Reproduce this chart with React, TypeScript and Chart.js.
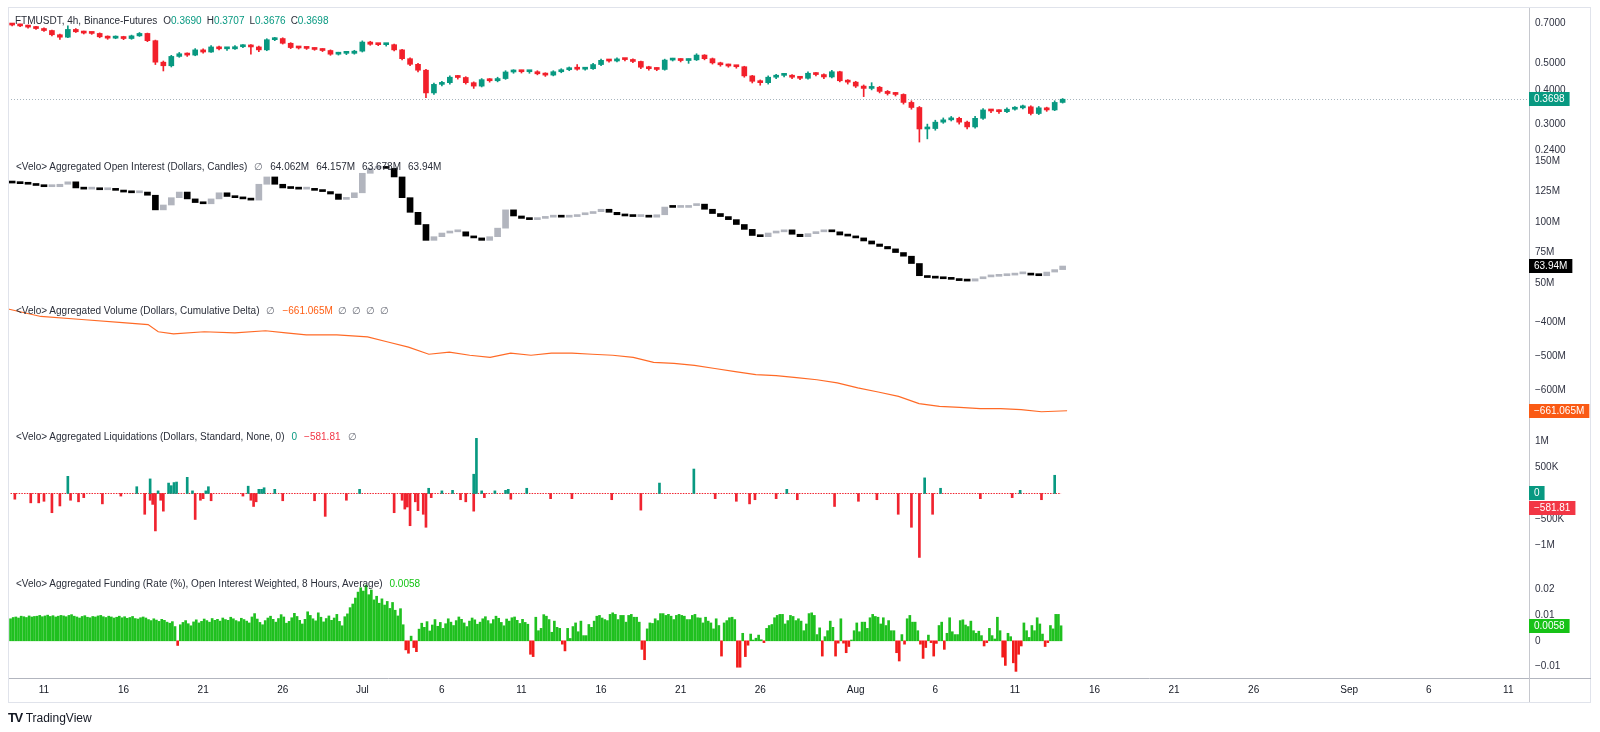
import React, { useEffect, useRef } from "react";
import { Chart, registerables } from "chart.js";

Chart.register(...registerables);

const FONT = "'Liberation Sans', Arial, Helvetica, sans-serif";
const UP = "#089981";
const DOWN = "#f2202b";
const OI_UP = "#b2b5be";
const OI_DOWN = "#000000";
const CVD_COLOR = "#ff6a26";
const LIQ_UP = "#089981";
const LIQ_DOWN = "#f0232f";
const FUND_UP = "#1fc01f";
const FUND_DOWN = "#f21b1b";

// ---- time axis: days since 11 Jun 00:00 ----
const xMinDay = -2.26;
const xMaxDay = 93.3;
const tickDays = [0, 5, 10, 15, 20, 25, 30, 35, 40, 45, 51, 56, 61, 66, 71, 76, 82, 87, 92];
const tickLabels = ["11", "16", "21", "26", "Jul", "6", "11", "16", "21", "26", "Aug", "6", "11", "16", "21", "26", "Sep", "6", "11"];

// ---- price candles (12h) ----
const candleStartDay = -2;
const candleStepDays = 0.5;
const priceFirstOpen = 0.695;
const priceClose = [
  0.69, 0.685, 0.678, 0.67, 0.659, 0.636, 0.623, 0.665, 0.652, 0.645,
  0.643, 0.625, 0.618, 0.626, 0.616, 0.63, 0.643, 0.605, 0.505, 0.49,
  0.53, 0.542, 0.536, 0.56, 0.55, 0.574, 0.565, 0.565, 0.575, 0.581,
  0.574, 0.56, 0.61, 0.616, 0.592, 0.571, 0.569, 0.567, 0.562, 0.557,
  0.54, 0.544, 0.544, 0.554, 0.598, 0.587, 0.585, 0.585, 0.56, 0.52,
  0.496, 0.472, 0.39, 0.419, 0.425, 0.445, 0.444, 0.425, 0.413, 0.436,
  0.432, 0.44, 0.465, 0.468, 0.466, 0.466, 0.458, 0.453, 0.466, 0.474,
  0.478, 0.476, 0.478, 0.495, 0.513, 0.51, 0.519, 0.516, 0.508, 0.484,
  0.478, 0.475, 0.514, 0.518, 0.512, 0.515, 0.536, 0.52, 0.502, 0.494,
  0.489, 0.486, 0.45, 0.43, 0.425, 0.445, 0.452, 0.452, 0.445, 0.441,
  0.46, 0.455, 0.446, 0.466, 0.432, 0.427, 0.413, 0.405, 0.409, 0.395,
  0.388, 0.385, 0.36, 0.345, 0.288, 0.289, 0.305, 0.311, 0.315, 0.305,
  0.293, 0.315, 0.338, 0.335, 0.333, 0.34, 0.344, 0.347, 0.328, 0.344,
  0.338, 0.36, 0.3698,
];
const priceHigh = [
  0.70, 0.695, 0.69, 0.682, 0.674, 0.662, 0.64, 0.685, 0.67, 0.656,
  0.65, 0.646, 0.63, 0.63, 0.628, 0.634, 0.648, 0.645, 0.608, 0.51,
  0.535, 0.548, 0.546, 0.566, 0.565, 0.58, 0.578, 0.572, 0.58, 0.586,
  0.585, 0.578, 0.615, 0.622, 0.62, 0.595, 0.576, 0.573, 0.57, 0.566,
  0.56, 0.549, 0.55, 0.558, 0.604, 0.602, 0.592, 0.59, 0.588, 0.562,
  0.524, 0.50, 0.475, 0.424, 0.43, 0.45, 0.452, 0.447, 0.428, 0.44,
  0.44, 0.445, 0.47, 0.474, 0.472, 0.471, 0.47, 0.462, 0.47, 0.478,
  0.485, 0.495, 0.482, 0.50, 0.518, 0.517, 0.524, 0.522, 0.519, 0.51,
  0.488, 0.482, 0.518, 0.522, 0.52, 0.519, 0.542, 0.538, 0.523, 0.505,
  0.497, 0.492, 0.488, 0.452, 0.435, 0.45, 0.456, 0.458, 0.455, 0.448,
  0.466, 0.463, 0.458, 0.472, 0.468, 0.436, 0.43, 0.417, 0.425, 0.412,
  0.398, 0.392, 0.387, 0.365, 0.348, 0.30, 0.31, 0.316, 0.32, 0.318,
  0.308, 0.32, 0.342, 0.34, 0.338, 0.344, 0.348, 0.352, 0.35, 0.348,
  0.346, 0.365, 0.372,
];
const priceLow = [
  0.685, 0.68, 0.672, 0.665, 0.654, 0.63, 0.612, 0.62, 0.648, 0.64,
  0.638, 0.62, 0.612, 0.615, 0.61, 0.612, 0.627, 0.60, 0.495, 0.469,
  0.485, 0.526, 0.53, 0.533, 0.545, 0.548, 0.56, 0.558, 0.562, 0.57,
  0.54, 0.552, 0.556, 0.605, 0.588, 0.566, 0.564, 0.562, 0.558, 0.552,
  0.535, 0.536, 0.538, 0.54, 0.55, 0.582, 0.58, 0.578, 0.555, 0.515,
  0.49, 0.465, 0.375, 0.385, 0.414, 0.42, 0.438, 0.42, 0.405, 0.41,
  0.427, 0.428, 0.437, 0.46, 0.461, 0.46, 0.454, 0.448, 0.45, 0.462,
  0.47, 0.472, 0.472, 0.475, 0.49, 0.505, 0.506, 0.51, 0.503, 0.478,
  0.472, 0.47, 0.472, 0.51, 0.506, 0.50, 0.512, 0.515, 0.497, 0.488,
  0.484, 0.48, 0.445, 0.424, 0.416, 0.42, 0.44, 0.446, 0.44, 0.436,
  0.438, 0.45, 0.44, 0.442, 0.428, 0.42, 0.408, 0.378, 0.40, 0.39,
  0.383, 0.38, 0.355, 0.34, 0.258, 0.265, 0.285, 0.302, 0.308, 0.30,
  0.288, 0.29, 0.312, 0.33, 0.328, 0.33, 0.337, 0.341, 0.324, 0.325,
  0.334, 0.336, 0.358,
];
const priceTicks = [0.24, 0.3, 0.4, 0.5, 0.7];
const priceAxisMin = 0.2314;
const priceAxisMax = 0.803;

// ---- open interest candles (12h, $M) ----
const oiFirstOpen = 132.5;
const oiClose = [
  132, 131.5, 131, 130, 129, 129, 131, 133, 128, 127,
  127, 126.5, 127.5, 126, 124.6, 124, 124.6, 122, 110, 114,
  120, 124.6, 119, 116, 115, 119, 124, 121, 120, 119,
  118, 131, 137, 131, 128, 127.5, 127, 127, 126, 125,
  123, 118.6, 120, 124, 140, 144, 145.5, 144, 137, 120,
  108, 98, 85, 88, 91, 92, 92, 88.5, 87, 85,
  88, 95, 110, 105, 103, 102, 103, 104, 104.5, 104,
  104.5, 106, 107, 108.5, 110.5, 108, 106, 105, 104.5, 104.5,
  104, 106, 112.3, 112, 112, 113.5, 114.7, 110.5, 107, 104.5,
  102, 98, 94, 89, 88, 91, 92, 93.6, 90, 88,
  90.5, 92, 93.6, 92, 89.4, 88.5, 87, 84.5, 82, 80,
  78, 75, 72, 66, 56, 54.5, 54, 53.5, 53, 52,
  51.6, 53.5, 55, 55.5, 56, 56.5, 57.5, 57.5, 56.5, 56,
  59, 61, 63.94,
];
const oiTicks = [50, 75, 100, 125, 150];
const oiAxisMin = 41;
const oiAxisMax = 155;

// ---- cumulative volume delta ($M) ----
const cvdDays = [
  -2.25, -0.2, 2.37, 4.94, 6.54, 7.18, 8.14, 10.07, 11.99, 13.92,
  15.2, 16.48, 18.4, 20.33, 21.61, 22.9, 24.18, 25.47, 26.75, 28.03,
  29.32, 30.6, 31.88, 33.17, 34.45, 35.73, 37.02, 38.3, 39.58, 40.87,
  42.15, 43.43, 44.72, 46, 47.28, 48.56, 49.84, 51.13, 52.41, 53.69,
  54.98, 56.26, 57.54, 58.82, 60.1, 61.39, 62.67, 64.28,
];
const cvdValues = [
  -362, -384, -393, -402, -408, -429, -435, -429, -432, -426,
  -432, -438, -438, -444, -459, -474, -495, -489, -498, -504,
  -492, -498, -492, -492, -495, -498, -504, -519, -522, -528,
  -537, -546, -555, -558, -564, -570, -579, -594, -606, -619,
  -640, -648, -651, -655, -655, -658, -664, -661.065,
];
const cvdTicks = [-600, -500, -400];
const cvdAxisMin = -700;
const cvdAxisMax = -318;

// ---- liquidations ($M) ----
const liqShortDays = [
  1.5, 5.83, 6.67, 7.17, 7.83, 8.0, 8.17, 8.33, 9.0, 9.33,
  10.17, 10.33, 12.83, 13.5, 13.67, 13.83, 14.5, 19.83, 24.17, 25.0,
  25.67, 27.0, 27.17, 27.5, 28.33, 29.0, 29.17, 30.33, 38.67, 40.83,
  46.67, 55.33, 56.33, 61.33, 63.5,
];
const liqShortValues = [
  0.33, 0.13, 0.28, 0.05, 0.2, 0.15, 0.21, 0.22, 0.31, 0.05,
  0.05, 0.13, 0.14, 0.08, 0.08, 0.11, 0.08, 0.08, 0.1, 0.05,
  0.06, 0.37, 1.06, 0.05, 0.05, 0.06, 0.08, 0.1, 0.2, 0.47,
  0.08, 0.3, 0.1, 0.06, 0.35,
];
const liqLongDays = [
  -1.83, -0.83, -0.33, 0, 0.5, 1.0, 1.67, 2.17, 2.5, 3.67,
  4.83, 6.33, 6.67, 6.83, 7.0, 7.33, 7.5, 9.5, 9.83, 10.0,
  10.5, 12.5, 13.0, 13.17, 13.33, 15.0, 17.0, 17.67, 19.0, 22.0,
  22.5, 22.67, 22.83, 23.0, 23.33, 23.5, 23.83, 24.0, 24.33, 26.17,
  26.5, 27.0, 27.67, 29.33, 31.83, 33.17, 35.67, 37.5, 42.17, 43.5,
  44.33, 44.67, 46.0, 47.33, 49.67, 51.17, 52.33, 53.67, 54.5, 55.0,
  55.83, 58.83, 60.83, 62.67,
];
const liqLongValues = [
  -0.11, -0.18, -0.18, -0.15, -0.37, -0.24, -0.13, -0.16, -0.08, -0.2,
  -0.05, -0.4, -0.13, -0.21, -0.72, -0.13, -0.34, -0.5, -0.13, -0.1,
  -0.14, -0.05, -0.13, -0.25, -0.16, -0.14, -0.14, -0.44, -0.13, -0.37,
  -0.13, -0.3, -0.26, -0.62, -0.16, -0.33, -0.4, -0.65, -0.08, -0.12,
  -0.16, -0.34, -0.08, -0.11, -0.1, -0.1, -0.12, -0.32, -0.1, -0.15,
  -0.2, -0.12, -0.1, -0.12, -0.25, -0.15, -0.12, -0.4, -0.65, -1.23,
  -0.4, -0.1, -0.08, -0.12,
];
const liqTicks = [-1, -0.5, 0.5, 1];
const liqAxisMin = -1.51;
const liqAxisMax = 1.336;

// ---- funding rate (%, 4h bars) ----
const fundingStartDay = -2.1;
const fundingStepDays = 1 / 6;
const fundingRate = [
  .0085, .009, .0092, .0088, .0095, .0093, .009, .0096, .0092, .0094,
  .0095, .0098, .0093, .0096, .0099, .0094, .0097, .0092, .0095, .0098,
  .0096, .0093, .0098, .0101, .0095, .0092, .0088, .0094, .0097, .0091,
  .0089, .0094, .0092, .0096, .0098, .0093, .009, .0095, .0092, .0088,
  .0091, .0095, .0089, .0093, .0087, .009, .0094, .0086, .0084, .0089,
  .0092, .0088, .0082, .0078, .0085, .008, .0075, .0083, .0079, .0072,
  .0068, .0074, .0055, -.0018, .0062, .0071, .0078, .0066, .0058, .0073,
  .0081, .0069, .0075, .0084, .0078, .0072, .0086, .0079, .0083, .0076,
  .0088, .0082, .0079, .0091, .0085, .0078, .0074, .0087, .0082, .0076,
  .0069, .0092, .0105, .0084, .0071, .0062, .0078, .0088, .0095, .0083,
  .0072, .0086, .0101, .0092, .0068, .0075, .0089, .0106, .0094, .0079,
  .0065, .0083, .0112, .0098, .0085, .0077, .0108, .0091, .0073, .0086,
  .0096, .0079, .0088, .0102, .0075, .0058, .0093, .0104, .0128, .0142,
  .0165, .0188, .0205, .0192, .0215, .0178, .0196, .0158, .0172, .0145,
  .0162, .0138, .0152, .0125, .0148, .0118, .0096, .0124, .0062, -.0035,
  -.0048, .0018, -.0026, -.0042, .0045, .0068, .0052, .0074, .0038, .0061,
  .0082, .0056, .0071, .0048, .0066, .0085, .0072, .0059, .0078, .0092,
  .0083, .0069, .0055, .0076, .0088, .0081, .0064, .0072, .0085, .0093,
  .0078, .0066, .0082, .0095, .0087, .0071, .0058, .0084, .0076, .0089,
  .0092, .0079, .0067, .0083, .0071, .0064,
  -.0052, -.0061, .0091, .0039, .0048, .0101, .0095, .0082, .0033, .0076,
  .0052, .0048, -.0013, -.0039, .0048, .0009, .0055, .0069, .0035, .0076,
  .002, .002, .0063, .0052, .0076, .0095, .0098, .0088, .0082, .0078,
  .0102, .0108, .0102, .0082, .0098, .0098, .0072, .0098, .0102, .0091,
  .0091, .0072, -.0033, -.0073, .0046, .0069, .0067, .0085, .0078, .0105,
  .0105, .0098, .0102, .0095, .0082, .0098, .0102, .0098, .0095, .0082,
  .0082, .0098, .0102, .0089, .0088, .0069, .0091, .0076, .0069, .0046,
  .0085, .0059, -.0059, .0069, .0078, .0089, .0091, .0082, -.0102, -.0102,
  .0029, -.0061, -.0017, .0026, .0003, .001, .0022, .0004, -.0007, .0048,
  .0059, .0063, .0089, .0098, .0102, .0102, .0065, .0078, .0098, .0094,
  .0078, .0085, .0076, .0039, .0065, .0105, .0108, .0098, .0024, .005,
  -.0059, .0016, .0039, .0076, .0052, -.0059, -.0009, .0085, -.0009, -.0046,
  -.0022, .0003, .0039, .0069, .0035, .0072, .0072, .0048, .0089, .0102,
  .0094, .0091, .0065, .0089, .0059, .0078, .0039, .0039, -.0046, -.0078,
  .0024, -.0013, .0085, .0098, .0072, .0072, .0039, -.0013, -.0068, -.0026,
  .0022, -.0007, -.0059, -.001, .0059, .0072, -.0033, .0029, .0089, .0035,
  .0024, .0024, .0078, .0081, .0061, .0055, .0076, .0039, .0029, .0037,
  .002, -.002, -.0007, .0048, .002, .0007, .0091, .0039, -.0063, -.0095,
  .0029, .0016, -.0085, -.0118, -.0052, -.002, .0069, .0039, .0013, .0059,
  .0039, .0089, .0065, .0026, -.0022, -.0007, .0059, .0046, .0102, .0102,
  .0058,
];
const fundingTicks = [-0.01, 0, 0.01, 0.02];
const fundingAxisMin = -0.01436;
const fundingAxisMax = 0.02656;

// ---- legends ----
const priceLegend = { o: "0.3690", h: "0.3707", l: "0.3676", c: "0.3698" };
const oiLegend = ["64.062M", "64.157M", "63.678M", "63.94M"];
const cvdLegend = "−661.065M";
const liqLegend = { up: "0", down: "−581.81" };
const fundingLegend = "0.0058";

const minus = (s: string) => s.replace("-", "−");

function buildChart(canvas: HTMLCanvasElement) {
  const candleDays = priceClose.map((_, i) => candleStartDay + i * candleStepDays);
  const priceOpen = priceClose.map((_, i) => (i === 0 ? priceFirstOpen : priceClose[i - 1]));
  const priceColors = priceClose.map((c, i) => (c >= priceOpen[i] ? UP : DOWN));
  const oiOpen = oiClose.map((_, i) => (i === 0 ? oiFirstOpen : oiClose[i - 1]));
  const oiColors = oiClose.map((c, i) => (c >= oiOpen[i] ? OI_UP : OI_DOWN));
  const fundingDays = fundingRate.map((_, i) => fundingStartDay + i * fundingStepDays);

  const lastPrice = priceClose[priceClose.length - 1];
  const lastOi = oiClose[oiClose.length - 1];
  const lastCvd = cvdValues[cvdValues.length - 1];
  const lastFunding = fundingRate[fundingRate.length - 1];

  const tickFont = { size: 10, family: FONT };
  const yBase = (weight: number) => ({
    position: "right" as const,
    stack: "panes",
    stackWeight: weight,
    offset: false,
    grid: { display: false, drawTicks: false },
    border: { display: true, color: "#c6c8ce", width: 1 },
    afterFit: (s: any) => {
      s.width = 62;
      s.paddingTop = 0;
      s.paddingBottom = 0;
    },
  });
  const yTicks = (cb: (v: number) => string) => ({
    font: tickFont,
    color: "#2f3241",
    padding: 6,
    autoSkip: false,
    callback: (v: any) => cb(Number(v)),
  });

  const tag = (ctx: CanvasRenderingContext2D, x: number, y: number, text: string, bg: string) => {
    ctx.font = `10px ${FONT}`;
    const w = ctx.measureText(text).width + 10;
    ctx.fillStyle = bg;
    ctx.fillRect(x, Math.round(y - 7), w, 14);
    ctx.fillStyle = "#ffffff";
    ctx.textBaseline = "middle";
    ctx.textAlign = "left";
    ctx.fillText(text, x + 5, Math.round(y - 7) + 7.5);
  };

  const paneDecor = {
    id: "paneDecor",
    beforeDatasetsDraw(chart: any) {
      const ctx = chart.ctx as CanvasRenderingContext2D;
      const { left, right } = chart.chartArea;
      const x = chart.scales.x;
      ctx.save();
      const py = Math.round(chart.scales.yPrice.getPixelForValue(lastPrice)) + 0.5;
      ctx.strokeStyle = "#a7b4bd";
      ctx.lineWidth = 1;
      ctx.setLineDash([1, 2]);
      ctx.beginPath();
      ctx.moveTo(left, py);
      ctx.lineTo(right, py);
      ctx.stroke();
      const zy = Math.round(chart.scales.yLiq.getPixelForValue(0)) + 0.5;
      ctx.strokeStyle = LIQ_DOWN;
      ctx.setLineDash([1.5, 1.2]);
      ctx.beginPath();
      ctx.moveTo(x.getPixelForValue(fundingDays[0]), zy);
      ctx.lineTo(x.getPixelForValue(fundingDays[fundingDays.length - 1]), zy);
      ctx.stroke();
      ctx.restore();
    },
    afterDraw(chart: any) {
      const ctx = chart.ctx as CanvasRenderingContext2D;
      const area = chart.chartArea;
      const W = chart.width;
      ctx.save();
      ctx.strokeStyle = "#e0e3eb";
      ctx.lineWidth = 1;
      ctx.strokeRect(area.left + 0.5, area.top + 0.5, W - 9 - area.left - 1, 695);
      ctx.strokeStyle = "#b2b5be";
      ctx.beginPath();
      ctx.moveTo(area.right, area.bottom + 0.5);
      ctx.lineTo(W - 9, area.bottom + 0.5);
      ctx.stroke();
      ctx.strokeStyle = "#c6c8ce";
      ctx.beginPath();
      ctx.moveTo(area.right + 0.5, area.bottom);
      ctx.lineTo(area.right + 0.5, area.top + 695);
      ctx.stroke();
      const ax = area.right;
      tag(ctx, ax, chart.scales.yPrice.getPixelForValue(lastPrice), lastPrice.toFixed(4), UP);
      tag(ctx, ax, chart.scales.yOI.getPixelForValue(lastOi), lastOi.toFixed(2) + "M", "#000000");
      tag(ctx, ax, chart.scales.yCVD.getPixelForValue(lastCvd), minus(lastCvd.toFixed(3)) + "M", "#fa5a14");
      const z = chart.scales.yLiq.getPixelForValue(0);
      tag(ctx, ax, z, liqLegend.up, LIQ_UP);
      tag(ctx, ax, z + 15, liqLegend.down, "#f23645");
      tag(ctx, ax, chart.scales.yFund.getPixelForValue(lastFunding), lastFunding.toFixed(4), "#17c217");
      ctx.restore();
    },
  };

  const datasets: any[] = [
    {
      type: "bar",
      yAxisID: "yPrice",
      data: candleDays.map((d, i) => ({ x: d, y: [priceLow[i], priceHigh[i]] })),
      backgroundColor: priceColors,
      barThickness: 1,
      grouped: false,
      minBarLength: 1,
    },
    {
      type: "bar",
      yAxisID: "yPrice",
      data: candleDays.map((d, i) => ({
        x: d,
        y: [Math.min(priceOpen[i], priceClose[i]), Math.max(priceOpen[i], priceClose[i])],
      })),
      backgroundColor: priceColors,
      barThickness: 5,
      grouped: false,
      minBarLength: 2,
    },
    {
      type: "bar",
      yAxisID: "yOI",
      data: candleDays.map((d, i) => ({
        x: d,
        y: [Math.min(oiOpen[i], oiClose[i]), Math.max(oiOpen[i], oiClose[i])],
      })),
      backgroundColor: oiColors,
      barThickness: 6,
      grouped: false,
      minBarLength: 2,
    },
    {
      type: "line",
      yAxisID: "yCVD",
      data: cvdDays.map((d, i) => ({ x: d, y: cvdValues[i] })),
      borderColor: CVD_COLOR,
      borderWidth: 1.2,
      pointRadius: 0,
      tension: 0,
    },
    {
      type: "bar",
      yAxisID: "yLiq",
      data: liqShortDays.map((d, i) => ({ x: d, y: liqShortValues[i] })),
      backgroundColor: LIQ_UP,
      barThickness: 2,
      grouped: false,
    },
    {
      type: "bar",
      yAxisID: "yLiq",
      data: liqLongDays.map((d, i) => ({ x: d, y: liqLongValues[i] })),
      backgroundColor: LIQ_DOWN,
      barThickness: 2,
      grouped: false,
    },
    {
      type: "bar",
      yAxisID: "yFund",
      data: fundingDays.map((d, i) => ({ x: d, y: fundingRate[i] })),
      backgroundColor: fundingRate.map((v) => (v >= 0 ? FUND_UP : FUND_DOWN)),
      barThickness: 2,
      grouped: false,
    },
  ];

  return new Chart(canvas, {
    type: "bar",
    data: { datasets },
    plugins: [paneDecor],
    options: {
      animation: false,
      responsive: false,
      events: [],
      layout: { padding: { left: 8, top: 7, right: 9, bottom: 30 } },
      plugins: { legend: { display: false }, tooltip: { enabled: false } },
      scales: {
        x: {
          type: "linear",
          position: "bottom",
          min: xMinDay,
          max: xMaxDay,
          offset: false,
          grid: { display: false, drawTicks: false },
          border: { display: true, color: "#b2b5be", width: 1 },
          afterBuildTicks: (s: any) => {
            s.ticks = tickDays.map((v) => ({ value: v }));
          },
          afterFit: (s: any) => {
            s.height = 24;
            s.paddingLeft = 0;
            s.paddingRight = 0;
          },
          ticks: {
            autoSkip: false,
            maxRotation: 0,
            padding: 6,
            font: tickFont,
            color: "#131722",
            callback: (v: any) => {
              const i = tickDays.indexOf(Number(v));
              return i >= 0 ? tickLabels[i] : "";
            },
          },
        },
        yPrice: {
          ...yBase(148),
          type: "logarithmic",
          min: priceAxisMin,
          max: priceAxisMax,
          afterBuildTicks: (s: any) => {
            s.ticks = priceTicks.map((v) => ({ value: v }));
          },
          ticks: yTicks((v) => v.toFixed(4)),
        },
        yOI: {
          ...yBase(139),
          type: "linear",
          min: oiAxisMin,
          max: oiAxisMax,
          afterBuildTicks: (s: any) => {
            s.ticks = oiTicks.map((v) => ({ value: v }));
          },
          ticks: yTicks((v) => `${v}M`),
        },
        yCVD: {
          ...yBase(130),
          type: "linear",
          min: cvdAxisMin,
          max: cvdAxisMax,
          afterBuildTicks: (s: any) => {
            s.ticks = cvdTicks.map((v) => ({ value: v }));
          },
          ticks: yTicks((v) => minus(`${v}M`)),
        },
        yLiq: {
          ...yBase(148),
          type: "linear",
          min: liqAxisMin,
          max: liqAxisMax,
          afterBuildTicks: (s: any) => {
            s.ticks = liqTicks.map((v) => ({ value: v }));
          },
          ticks: yTicks((v) => (Math.abs(v) >= 1 ? minus(`${v}M`) : minus(`${v * 1000}K`))),
        },
        yFund: {
          ...yBase(106),
          type: "linear",
          min: fundingAxisMin,
          max: fundingAxisMax,
          afterBuildTicks: (s: any) => {
            s.ticks = fundingTicks.map((v) => ({ value: v }));
          },
          ticks: yTicks((v) => minus(String(v))),
        },
      },
    },
  } as any);
}

const headerStyle = (top: number): React.CSSProperties => ({
  position: "absolute",
  left: 16,
  top,
  fontSize: 10,
  lineHeight: "12px",
  whiteSpace: "pre",
  color: "#2a2e39",
  fontFamily: FONT,
  pointerEvents: "none",
});
const gap = { marginLeft: 7 };
const smallGap = { marginLeft: 5 };
const nullMark = { marginLeft: 5, color: "#6a6d78" };

export default function App() {
  const ref = useRef<HTMLCanvasElement>(null);
  useEffect(() => {
    if (!ref.current) return;
    const chart = buildChart(ref.current);
    return () => chart.destroy();
  }, []);
  const teal = { color: "#089981" };
  return (
    <div style={{ position: "fixed", left: 0, top: 0, width: 1600, height: 732, background: "#ffffff", overflow: "hidden" }}>
      <canvas ref={ref} width={1600} height={732} style={{ display: "block", width: 1600, height: 732 }} />
      <div style={{ ...headerStyle(15), left: 15 }}>
        <span>FTMUSDT, 4h, Binance-Futures</span>
        <span style={{ marginLeft: 6 }}>O<span style={teal}>{priceLegend.o}</span></span>
        <span style={smallGap}>H<span style={teal}>{priceLegend.h}</span></span>
        <span style={smallGap}>L<span style={teal}>{priceLegend.l}</span></span>
        <span style={smallGap}>C<span style={teal}>{priceLegend.c}</span></span>
      </div>
      <div style={headerStyle(161)}>
        <span>{"<Velo> Aggregated Open Interest (Dollars, Candles)"}</span>
        <span style={{ ...gap, color: "#6a6d78" }}>∅</span>
        {oiLegend.map((t, i) => (
          <span key={i} style={gap}>{t}</span>
        ))}
      </div>
      <div style={headerStyle(305)}>
        <span>{"<Velo> Aggregated Volume (Dollars, Cumulative Delta)"}</span>
        <span style={{ ...gap, color: "#6a6d78" }}>∅</span>
        <span style={{ ...gap, color: "#ff5d12" }}>{cvdLegend}</span>
        <span style={nullMark}>∅</span>
        <span style={nullMark}>∅</span>
        <span style={nullMark}>∅</span>
        <span style={nullMark}>∅</span>
      </div>
      <div style={headerStyle(431)}>
        <span>{"<Velo> Aggregated Liquidations (Dollars, Standard, None, 0)"}</span>
        <span style={{ ...gap, color: "#089981" }}>{liqLegend.up}</span>
        <span style={{ ...gap, color: "#f23645" }}>{liqLegend.down}</span>
        <span style={{ ...gap, color: "#6a6d78" }}>∅</span>
      </div>
      <div style={headerStyle(578)}>
        <span>{"<Velo> Aggregated Funding (Rate (%), Open Interest Weighted, 8 Hours, Average)"}</span>
        <span style={{ ...gap, color: "#13c413" }}>{fundingLegend}</span>
      </div>
      <div style={{ position: "absolute", left: 8, top: 710, fontFamily: FONT, color: "#131722", whiteSpace: "pre", lineHeight: "14px" }}>
        <span style={{ fontWeight: 900, fontSize: 13, letterSpacing: -1.5 }}>TV</span>
        <span style={{ fontSize: 12, marginLeft: 4 }}>TradingView</span>
      </div>
    </div>
  );
}
